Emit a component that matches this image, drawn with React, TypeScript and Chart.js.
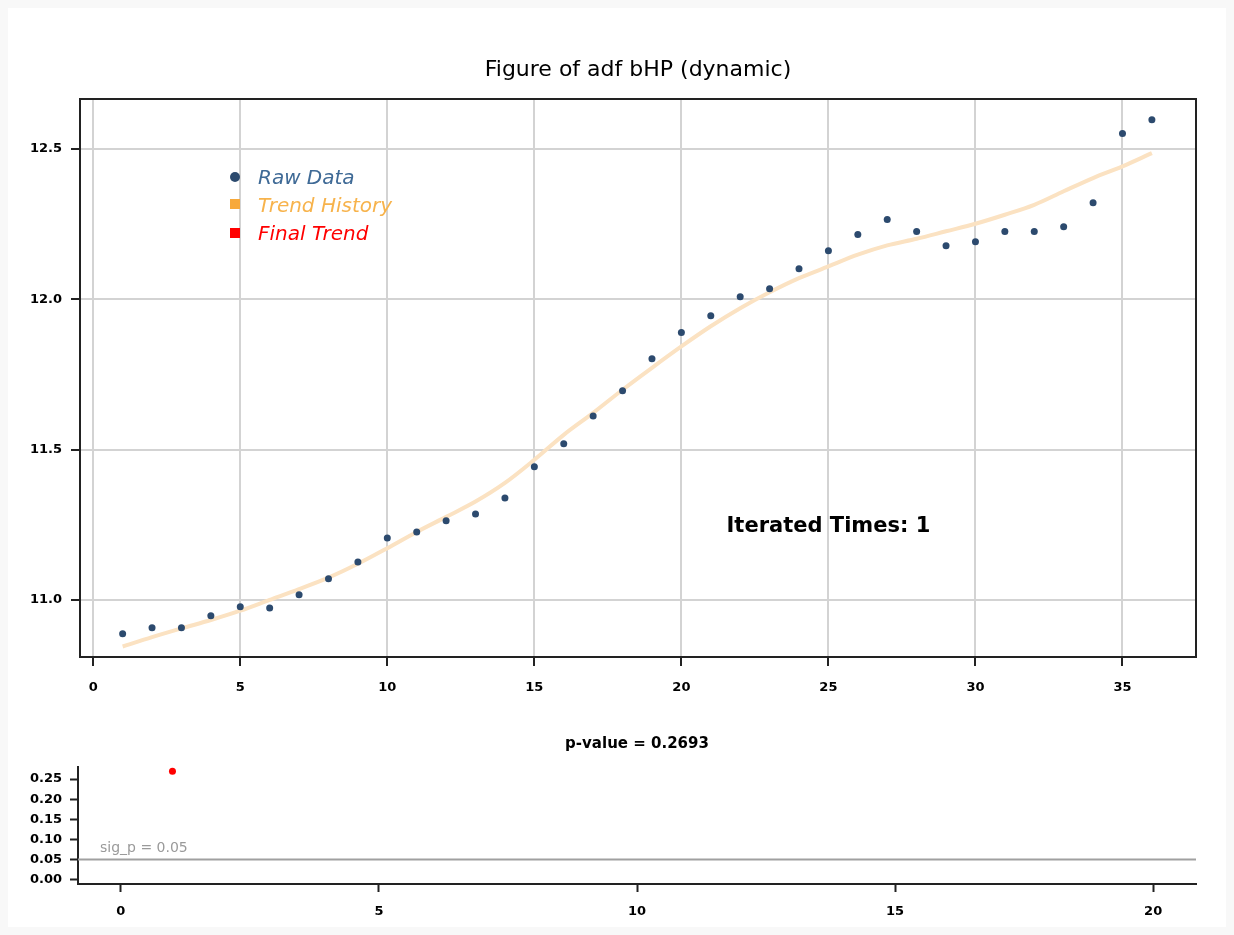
import React, { useEffect, useRef } from "react";
import { Chart, registerables } from "chart.js";
Chart.register(...registerables);

const iterations = [1, 2, 3, 4, 5, 6, 7, 8, 9, 10, 11, 12, 13, 14, 15, 16, 17, 18, 19, 20, 21, 22, 23, 24, 25, 26, 27, 28, 29, 30, 31, 32, 33, 34, 35, 36];
const rawData = [10.887, 10.907, 10.907, 10.947, 10.977, 10.973, 11.017, 11.07, 11.126, 11.206, 11.226, 11.263, 11.286, 11.339, 11.443, 11.519, 11.612, 11.696, 11.802, 11.889, 11.945, 12.008, 12.035, 12.101, 12.161, 12.215, 12.265, 12.225, 12.178, 12.191, 12.225, 12.225, 12.241, 12.321, 12.551, 12.597];
const finalTrend = [10.845, 10.876, 10.905, 10.933, 10.964, 11.0, 11.036, 11.074, 11.12, 11.172, 11.226, 11.276, 11.327, 11.389, 11.466, 11.549, 11.622, 11.699, 11.772, 11.843, 11.91, 11.97, 12.023, 12.07, 12.109, 12.148, 12.179, 12.201, 12.226, 12.251, 12.281, 12.314, 12.359, 12.403, 12.442, 12.486];
const topXTicks = [0, 5, 10, 15, 20, 25, 30, 35];
const topYTicks = [11.0, 11.5, 12.0, 12.5];
const legendLabels = ["Raw Data", "Trend History", "Final Trend"];
const iteratedTimes = 1;

const pIterations = [1];
const pValues = [0.2693];
const sigP = 0.05;
const bottomXTicks = [0, 5, 10, 15, 20];
const bottomYTicks = [0, 0.05, 0.1, 0.15, 0.2, 0.25];

const FONT = '"DejaVu Sans", "Liberation Sans", Arial, sans-serif';
const AXIS_DARK = "#222222";
const GRID = "#d3d3d3";
const RAW_COLOR = "#2c4a6e";
const TREND_COLOR = "#fbe2c2";

export default function App() {
  const topRef = useRef<HTMLCanvasElement | null>(null);
  const botRef = useRef<HTMLCanvasElement | null>(null);

  useEffect(() => {
    document.body.style.background = "#f8f8f8";
    const topDecor = {
      id: "topDecor",
      afterDraw(chart: any) {
        const { ctx, chartArea, scales } = chart;
        ctx.save();
        // frame
        ctx.strokeStyle = AXIS_DARK;
        ctx.lineWidth = 2;
        ctx.strokeRect(chartArea.left, chartArea.top, chartArea.right - chartArea.left, chartArea.bottom - chartArea.top);
        // title
        ctx.fillStyle = "#000";
        ctx.textAlign = "center";
        ctx.textBaseline = "middle";
        ctx.font = `22px ${FONT}`;
        ctx.fillText("Figure of adf bHP (dynamic)", (chartArea.left + chartArea.right) / 2, 62);
        // legend
        const lx = chartArea.left + 155;
        const ly = chartArea.top + 78;
        ctx.fillStyle = RAW_COLOR;
        ctx.beginPath();
        ctx.arc(lx, ly, 5, 0, Math.PI * 2);
        ctx.fill();
        ctx.fillStyle = "#f7a93b";
        ctx.fillRect(lx - 5, ly + 22, 10, 10);
        ctx.fillStyle = "#ff0000";
        ctx.fillRect(lx - 5, ly + 51, 10, 10);
        ctx.textAlign = "left";
        ctx.font = `italic 20px ${FONT}`;
        ctx.fillStyle = "#3f6a96";
        ctx.fillText(legendLabels[0], lx + 23, ly + 2);
        ctx.fillStyle = "#f7b34c";
        ctx.fillText(legendLabels[1], lx + 23, ly + 30);
        ctx.fillStyle = "#ff0000";
        ctx.fillText(legendLabels[2], lx + 23, ly + 58);
        // iterated
        ctx.fillStyle = "#000";
        ctx.textAlign = "center";
        ctx.font = `bold 21px ${FONT}`;
        ctx.fillText(`Iterated Times: ${iteratedTimes}`, scales.x.getPixelForValue(25), scales.y.getPixelForValue(11.244));
        ctx.restore();
      },
    };

    const top = new Chart(topRef.current as HTMLCanvasElement, {
      type: "line",
      data: {
        datasets: [
          {
            label: "Raw Data",
            data: iterations.map((x, i) => ({ x, y: rawData[i] })),
            showLine: false,
            pointRadius: 3.5,
            pointBackgroundColor: RAW_COLOR,
            pointBorderWidth: 0,
            order: 0,
          },
          {
            label: "Final Trend",
            data: iterations.map((x, i) => ({ x, y: finalTrend[i] })),
            borderColor: TREND_COLOR,
            borderWidth: 4,
            pointRadius: 0,
            cubicInterpolationMode: "monotone",
            order: 1,
          },
        ],
      },
      options: {
        animation: false,
        responsive: false,
        events: [],
        layout: { padding: { top: 91, right: 30, left: 0, bottom: 0 } },
        plugins: { legend: { display: false }, tooltip: { enabled: false }, title: { display: false } },
        scales: {
          x: {
            type: "linear",
            min: -0.45,
            max: 37.5,
            afterBuildTicks: (axis: any) => {
              axis.ticks = topXTicks.map((v) => ({ value: v }));
            },
            afterFit: (axis: any) => {
              axis.height = 61;
            },
            ticks: { color: "#000", padding: 14, font: { family: FONT, size: 13, weight: "bold" }, maxRotation: 0 },
            grid: { color: GRID, lineWidth: 2, tickColor: AXIS_DARK, tickLength: 9, tickWidth: 2 },
            border: { color: AXIS_DARK, width: 2 },
          },
          y: {
            type: "linear",
            min: 10.81,
            max: 12.666,
            afterBuildTicks: (axis: any) => {
              axis.ticks = topYTicks.map((v) => ({ value: v }));
            },
            afterFit: (axis: any) => {
              axis.width = 72;
            },
            ticks: {
              color: "#000",
              padding: 9,
              font: { family: FONT, size: 13, weight: "bold" },
              callback: (v: any) => Number(v).toFixed(1),
            },
            grid: { color: GRID, lineWidth: 2, tickColor: AXIS_DARK, tickLength: 9, tickWidth: 2 },
            border: { color: AXIS_DARK, width: 2 },
          },
        },
      },
      plugins: [topDecor],
    } as any);

    const botDecor = {
      id: "botDecor",
      beforeDatasetsDraw(chart: any) {
        const { ctx, chartArea, scales } = chart;
        const y = scales.y.getPixelForValue(sigP);
        ctx.save();
        ctx.strokeStyle = "#a0a0a0";
        ctx.lineWidth = 2;
        ctx.beginPath();
        ctx.moveTo(chartArea.left, y);
        ctx.lineTo(chartArea.right, y);
        ctx.stroke();
        ctx.fillStyle = "#9a9a9a";
        ctx.font = `14px ${FONT}`;
        ctx.textAlign = "left";
        ctx.textBaseline = "middle";
        ctx.fillText(`sig_p = ${sigP.toFixed(2)}`, chartArea.left + 22, y - 11);
        ctx.fillStyle = "#000";
        ctx.textAlign = "center";
        ctx.font = `bold 15px ${FONT}`;
        ctx.fillText(`p-value = ${pValues[pValues.length - 1].toFixed(4)}`, (chartArea.left + chartArea.right) / 2, 26);
        ctx.restore();
      },
    };

    const bot = new Chart(botRef.current as HTMLCanvasElement, {
      type: "line",
      data: {
        datasets: [
          {
            label: "p-value",
            data: pIterations.map((x, i) => ({ x, y: pValues[i] })),
            showLine: false,
            pointRadius: 3.5,
            pointBackgroundColor: "#ff0000",
            pointBorderWidth: 0,
          },
        ],
      },
      options: {
        animation: false,
        responsive: false,
        events: [],
        layout: { padding: { top: 49, right: 30, left: 0, bottom: 0 } },
        plugins: { legend: { display: false }, tooltip: { enabled: false }, title: { display: false } },
        scales: {
          x: {
            type: "linear",
            min: -0.83,
            max: 20.83,
            afterBuildTicks: (axis: any) => {
              axis.ticks = bottomXTicks.map((v) => ({ value: v }));
            },
            afterFit: (axis: any) => {
              axis.height = 43;
            },
            ticks: { color: "#000", padding: 12, font: { family: FONT, size: 13, weight: "bold" }, maxRotation: 0 },
            grid: { drawOnChartArea: false, tickColor: AXIS_DARK, tickLength: 8, tickWidth: 2 },
            border: { color: AXIS_DARK, width: 2 },
          },
          y: {
            type: "linear",
            min: -0.0108,
            max: 0.28,
            afterBuildTicks: (axis: any) => {
              axis.ticks = bottomYTicks.map((v) => ({ value: v }));
            },
            afterFit: (axis: any) => {
              axis.width = 70;
            },
            ticks: {
              color: "#000",
              padding: 8,
              font: { family: FONT, size: 13, weight: "bold" },
              callback: (v: any) => Number(v).toFixed(2),
            },
            grid: { drawOnChartArea: false, tickColor: AXIS_DARK, tickLength: 8, tickWidth: 2 },
            border: { color: AXIS_DARK, width: 2 },
          },
        },
      },
      plugins: [botDecor],
    } as any);

    return () => {
      top.destroy();
      bot.destroy();
    };
  }, []);

  return (
    <div style={{ position: "relative", width: 1218, height: 919, background: "#ffffff" }}>
      <canvas ref={topRef} width={1218} height={710} style={{ position: "absolute", left: 0, top: 0, display: "block" }} />
      <canvas ref={botRef} width={1218} height={209} style={{ position: "absolute", left: 0, top: 710, display: "block" }} />
    </div>
  );
}
